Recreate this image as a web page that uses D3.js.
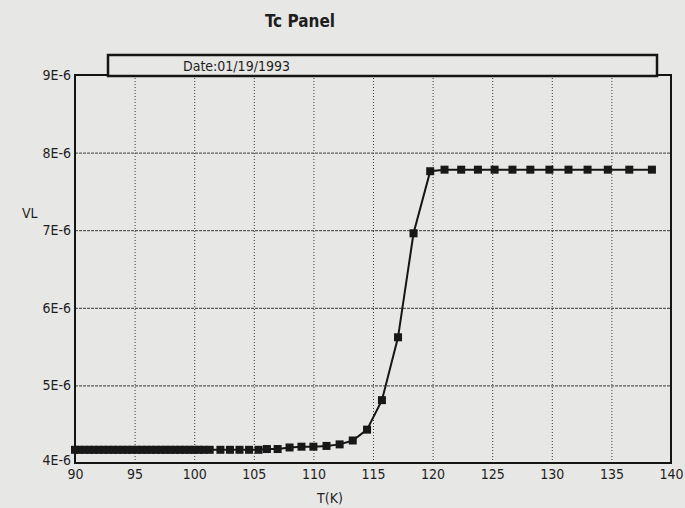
<!DOCTYPE html>
<html>
<head>
<meta charset="utf-8">
<script src="https://cdn.jsdelivr.net/npm/d3@7"></script>
<style>
  html, body { margin: 0; padding: 0; background: #e7e7e5; }
  svg { display: block; }
  text { font-family: "DejaVu Sans Condensed", "Liberation Sans Narrow", "DejaVu Sans", sans-serif; fill: #1e1e1e; }
</style>
</head>
<body>
<div id="chart"></div>
<script>
// readings: temperature (K) and VL
const tempK = [90.0, 90.4, 90.8, 91.2, 91.6, 92.0, 92.4, 92.8, 93.2, 93.6, 94.0, 94.4, 94.8, 95.2, 95.6,
  96.0, 96.4, 96.8, 97.2, 97.6, 98.0, 98.4, 98.8, 99.2, 99.6, 100.0, 100.4, 100.8,
  101.3, 102.2, 103.0, 103.8, 104.6, 105.4, 106.1, 107.0, 108.0, 109.0, 110.0, 111.1, 112.2, 113.3,
  114.5, 115.75, 117.1, 118.4, 119.8, 121.0, 122.4, 123.8, 125.2, 126.7, 128.2, 129.8, 131.4,
  133.0, 134.7, 136.5, 138.4]
const vl = [4.17e-6, 4.17e-6, 4.17e-6, 4.17e-6, 4.17e-6, 4.17e-6, 4.17e-6, 4.17e-6, 4.17e-6, 4.17e-6, 4.17e-6, 4.17e-6, 4.17e-6, 4.17e-6, 4.17e-6,
  4.17e-6, 4.17e-6, 4.17e-6, 4.17e-6, 4.17e-6, 4.17e-6, 4.17e-6, 4.17e-6, 4.17e-6, 4.17e-6, 4.17e-6, 4.17e-6, 4.17e-6,
  4.17e-6, 4.17e-6, 4.17e-6, 4.17e-6, 4.17e-6, 4.17e-6, 4.18e-6, 4.18e-6, 4.20e-6, 4.21e-6, 4.21e-6, 4.22e-6, 4.24e-6, 4.29e-6,
  4.43e-6, 4.81e-6, 5.62e-6, 6.96e-6, 7.76e-6, 7.78e-6, 7.78e-6, 7.78e-6, 7.78e-6, 7.78e-6, 7.78e-6, 7.78e-6, 7.78e-6,
  7.78e-6, 7.78e-6, 7.78e-6, 7.78e-6]

const xTicks = [90, 95, 100, 105, 110, 115, 120, 125, 130, 135, 140]
const yTicks = [4e-6, 5e-6, 6e-6, 7e-6, 8e-6, 9e-6]
const yTickLabels = ['4E-6', '5E-6', '6E-6', '7E-6', '8E-6', '9E-6']

const title = 'Tc Panel'
const dateText = 'Date:01/19/1993'

const width = 685
const height = 508
const margin = { top: 75, right: 14, bottom: 45, left: 75 }
const plotW = width - margin.left - margin.right
const plotH = height - margin.top - margin.bottom

const data = tempK.map((t, i) => ({ t: t, v: vl[i] }))

const svg = d3.select('#chart').append('svg').attr('width', width).attr('height', height)
svg.append('rect').attr('width', width).attr('height', height).attr('fill', '#e7e7e5')

const x = d3.scaleLinear().domain([90, 140]).range([0, plotW])
const y = d3.scaleLinear().domain([4e-6, 9e-6]).range([plotH, 0])

const plot = svg.append('g').attr('transform', `translate(${margin.left}, ${margin.top})`)

// grid
const xGrid = plot.append('g').attr('class', 'xGrid').attr('transform', `translate(0, ${plotH})`)
  .call(d3.axisBottom(x).tickValues(xTicks.slice(1, -1)).tickSize(-plotH).tickFormat(''))
xGrid.select('.domain').remove()
xGrid.selectAll('line').attr('stroke', '#3a3a3a').attr('stroke-width', 1).attr('stroke-dasharray', '1,2')

const yGrid = plot.append('g').attr('class', 'yGrid')
  .call(d3.axisLeft(y).tickValues(yTicks.slice(1, -1)).tickSize(-plotW).tickFormat(''))
yGrid.select('.domain').remove()
yGrid.selectAll('line').attr('stroke', '#3a3a3a').attr('stroke-width', 1).attr('stroke-dasharray', '3,1')

// tick labels
const xAxisGroup = plot.append('g').attr('transform', `translate(0, ${plotH})`)
  .call(d3.axisBottom(x).tickValues(xTicks).tickSize(0).tickPadding(6).tickFormat(d => d))
xAxisGroup.select('.domain').remove()
xAxisGroup.selectAll('text').attr('font-size', 14).attr('fill', '#1e1e1e')

const yAxisGroup = plot.append('g')
  .call(d3.axisLeft(y).tickValues(yTicks).tickSize(0).tickPadding(4).tickFormat((d, i) => yTickLabels[i]))
yAxisGroup.select('.domain').remove()
yAxisGroup.selectAll('text').attr('font-size', 14).attr('fill', '#1e1e1e')
yAxisGroup.selectAll('.tick').filter(d => d === 4e-6).select('text').attr('dy', '0.1em')

// frame
plot.append('rect').attr('width', plotW).attr('height', plotH)
  .attr('fill', 'none').attr('stroke', '#151515').attr('stroke-width', 2)

// series
plot.append('path').datum(data)
  .attr('fill', 'none').attr('stroke', '#151515').attr('stroke-width', 2)
  .attr('d', d3.line().x(d => x(d.t)).y(d => y(d.v)))

const markerSize = 8
plot.selectAll('rect.pt').data(data).enter().append('rect')
  .attr('class', 'pt')
  .attr('x', d => x(d.t) - markerSize / 2)
  .attr('y', d => y(d.v) - markerSize / 2)
  .attr('width', markerSize).attr('height', markerSize)
  .attr('fill', '#181818')

// date box
svg.append('rect').attr('x', 108).attr('y', 55).attr('width', 549).attr('height', 21)
  .attr('fill', '#e7e7e5').attr('stroke', '#151515').attr('stroke-width', 2.5)
svg.append('text').attr('x', 183).attr('y', 71).attr('font-size', 14).text(dateText)

// titles
svg.append('text').attr('x', 300).attr('y', 27).attr('text-anchor', 'middle')
  .attr('font-size', 17).attr('font-weight', 'bold').text(title)
svg.append('text').attr('x', 330).attr('y', 503).attr('text-anchor', 'middle')
  .attr('font-size', 14).text('T(K)')
svg.append('text').attr('x', 22).attr('y', 218)
  .attr('font-size', 14).text('VL')
</script>
</body>
</html>
